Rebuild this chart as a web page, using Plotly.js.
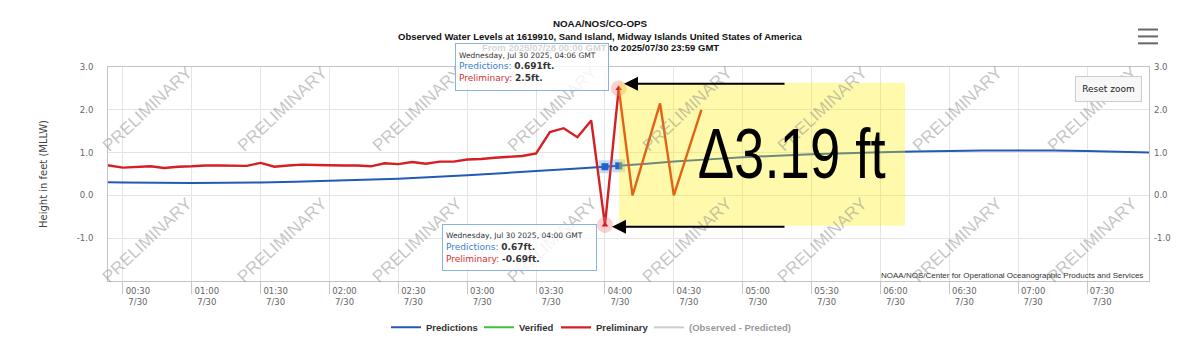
<!DOCTYPE html>
<html><head><meta charset="utf-8">
<script src="https://cdn.plot.ly/plotly-3.0.1.min.js"></script>
<style>html,body{margin:0;padding:0;background:#fff;}#chart{width:1200px;height:354px;}</style>
</head><body><div id="chart"></div>
<script>
// ---------- data ----------
const day = '2025-07-30 ';
const predTimes = ['00:18','00:30','01:00','01:30','02:00','02:30','03:00','03:30','04:00','04:06','04:30','05:00','05:30','06:00','06:30','07:00','07:30','08:00'];
const predValues = [0.31,0.30,0.29,0.30,0.34,0.39,0.47,0.57,0.67,0.691,0.79,0.89,0.96,1.01,1.04,1.05,1.04,1.00];

const prelimTimes = ['00:18','00:24','00:30','00:36','00:42','00:48','00:54','01:00','01:06','01:12','01:18','01:24','01:30','01:36','01:42','01:48','01:54','02:00','02:06','02:12','02:18','02:24','02:30','02:36','02:42','02:48','02:54','03:00','03:06','03:12','03:18','03:24','03:30','03:36','03:42','03:48','03:54','04:00','04:06'];
const prelimValues = [0.72,0.70,0.65,0.66,0.68,0.64,0.67,0.68,0.70,0.70,0.70,0.69,0.76,0.67,0.70,0.72,0.71,0.70,0.70,0.70,0.68,0.75,0.73,0.78,0.74,0.79,0.79,0.84,0.85,0.88,0.90,0.92,0.98,1.48,1.57,1.36,1.75,-0.69,2.5];

const zigTimes = ['04:06','04:12','04:24','04:30','04:42'];
const zigValues = [2.5,0.0,2.15,0.0,2.0];

const verifiedTimes = ['04:00'];
const verifiedValues = [null];

const hoverTimes = ['04:00','04:06'];
const hoverPred = [0.67,0.691];
const hoverPrelim = [-0.69,2.5];
const hoverHeaders = ['Wednesday, Jul 30 2025, 04:00 GMT','Wednesday, Jul 30 2025, 04:06 GMT'];

const yTickVals = [-1,0,1,2,3];
const yTickText = ['-1.0','0.0','1.0','2.0','3.0'];
const deltaLabel = '\u03943.19 ft';

// ---------- helpers ----------
const L=108,R=1149,T=67,B=284;
const px=p=>(p-L)/(R-L);
const py=p=>(B-p)/(B-T);
const t=a=>a.map(s=>day+s);

const BLUE='#2359b8', RED='#d41f24', GREEN='#3cc43c', GRAY='#9a9a9a';

const traces=[
 {name:'Predictions',legend:'legend',x:t(predTimes),y:predValues,mode:'lines',line:{color:BLUE,width:2,shape:'spline',smoothing:0.5},hoverinfo:'skip'},
 {name:'Verified',legend:'legend2',x:t(verifiedTimes),y:verifiedValues,yaxis:'y2',mode:'lines',line:{color:GREEN,width:2},hoverinfo:'skip'},
 {name:'Preliminary',legend:'legend3',x:t(prelimTimes),y:prelimValues,mode:'lines',line:{color:RED,width:2.4},hoverinfo:'skip'},
 {name:'(Observed - Predicted)',legend:'legend4',x:t(verifiedTimes),y:verifiedValues,mode:'lines',line:{color:GRAY,width:2},visible:'legendonly'},
 {name:'zig',x:t(zigTimes),y:zigValues,mode:'lines',line:{color:RED,width:2.4},showlegend:false,hoverinfo:'skip'},
 {x:t(hoverTimes),y:hoverPred,mode:'markers',marker:{symbol:'square',size:13,color:'rgba(80,140,220,0.3)'},showlegend:false,hoverinfo:'skip'},
 {x:t(hoverTimes),y:hoverPred,mode:'markers',marker:{symbol:'square',size:7,color:'#1f63cc'},showlegend:false,hoverinfo:'skip'},
 {x:t(hoverTimes),y:hoverPrelim,mode:'markers',marker:{symbol:'circle',size:16,color:'rgba(240,120,120,0.35)'},showlegend:false,hoverinfo:'skip'},
 {x:t(hoverTimes),y:hoverPrelim,mode:'markers',marker:{symbol:'triangle-up',size:6,color:RED},showlegend:false,hoverinfo:'skip'}
];

const ann=[];
// watermarks
for(let k=0;k<8;k++){
  for(const cy of [110,243]){
    ann.push({xref:'paper',yref:'paper',x:px(147+135*k),y:py(cy),xanchor:'center',yanchor:'middle',
      text:'PRELIMINARY',textangle:-43,showarrow:false,
      font:{family:'Liberation Sans, Arial',size:17,color:'rgba(140,140,140,0.5)'}});
  }
}
// subtitle lines
ann.push({xref:'paper',yref:'paper',x:px(600),y:py(36),xanchor:'center',yanchor:'middle',showarrow:false,
  text:'<b>Observed Water Levels at 1619910, Sand Island, Midway Islands United States of America</b>',
  font:{family:'Liberation Sans, Arial',size:9.5,color:'#111'}});
ann.push({xref:'paper',yref:'paper',x:px(600),y:py(47),xanchor:'center',yanchor:'middle',showarrow:false,
  text:'<b>From 2025/07/28 00:00 GMT to 2025/07/30 23:59 GMT</b>',
  font:{family:'Liberation Sans, Arial',size:9.5,color:'#111'}});
// tooltips
function tip(i,left,top,w,h){
  return {xref:'paper',yref:'paper',x:px(left),y:py(top),xanchor:'left',yanchor:'top',showarrow:false,align:'left',
    width:w,height:h,borderpad:3,bgcolor:'rgba(255,255,255,0.82)',bordercolor:'#86b3e3',borderwidth:1,
    font:{family:'DejaVu Sans',size:9,color:'#333'},
    text:"<span style='font-size:7.5px'>"+hoverHeaders[i]+"</span><br>"+
         "<span style='color:#3b7fcc'>Predictions:</span> <b>"+hoverPred[i]+"ft.</b><br>"+
         "<span style='color:#d23030'>Preliminary:</span> <b>"+hoverPrelim[i]+"ft.</b>"};
}
ann.push(tip(1,455,43,146,40));
ann.push(tip(0,442,226,147,39));
// arrows
ann.push({xref:'paper',yref:'paper',x:px(624),y:py(84),ax:162,ay:0,text:'',showarrow:true,arrowhead:2,arrowsize:1.4,arrowwidth:2,arrowcolor:'#000'});
ann.push({xref:'paper',yref:'paper',x:px(612),y:py(229),ax:174,ay:0,text:'',showarrow:true,arrowhead:2,arrowsize:1.4,arrowwidth:2,arrowcolor:'#000'});
// delta label
ann.push({xref:'paper',yref:'paper',x:px(791),y:py(155),xanchor:'center',yanchor:'middle',showarrow:false,
  text:deltaLabel,font:{family:'Liberation Sans, Arial',size:70,color:'#000'}});
// reset zoom
ann.push({xref:'paper',yref:'paper',x:px(1108.5),y:py(89),xanchor:'center',yanchor:'middle',showarrow:false,
  text:'Reset zoom',width:59,height:18,borderpad:3,bgcolor:'#f7f7f7',bordercolor:'#cccccc',borderwidth:1,
  font:{family:'DejaVu Sans',size:9,color:'#222'}});
// credits
ann.push({xref:'paper',yref:'paper',x:px(1145),y:py(278),xanchor:'right',yanchor:'middle',showarrow:false,
  text:'NOAA/NOS/Center for Operational Oceanographic Products and Services',
  font:{family:'Liberation Sans, Arial',size:8,color:'#333'}});

const shapes=[
 {type:'rect',xref:'paper',yref:'paper',x0:px(619),x1:px(905),y0:py(228),y1:py(83),layer:'above',
  fillcolor:'rgba(255,240,0,0.33)',line:{width:0}},
 {type:'line',xref:'paper',yref:'paper',x0:px(1138),x1:px(1158),y0:py(29),y1:py(29),line:{color:'#666',width:2}},
 {type:'line',xref:'paper',yref:'paper',x0:px(1138),x1:px(1158),y0:py(36),y1:py(36),line:{color:'#666',width:2}},
 {type:'line',xref:'paper',yref:'paper',x0:px(1138),x1:px(1158),y0:py(43),y1:py(43),line:{color:'#666',width:2}}
];

const legFont={family:'Liberation Sans, Arial',size:9.5,color:'#333',weight:'bold'};
function leg(textStart){
  return {orientation:'h',x:px(textStart-42),xanchor:'left',y:py(331),yanchor:'middle',bgcolor:'rgba(0,0,0,0)',
    font:legFont,itemclick:false,itemdoubleclick:false};
}

const tickFont={family:'DejaVu Sans',size:8.5,color:'#666'};
const layout={
 width:1200,height:354,
 margin:{l:L,r:1200-R,t:T,b:354-B,pad:0},
 paper_bgcolor:'#fff',plot_bgcolor:'#fff',
 font:{family:'DejaVu Sans'},
 title:{text:'<b>NOAA/NOS/CO-OPS</b>',xref:'container',x:0.5,xanchor:'center',yref:'container',y:1-24/354,yanchor:'middle',
   font:{family:'Liberation Sans, Arial',size:9.8,color:'#111'}},
 xaxis:{type:'date',range:[day+'00:23:30',day+'07:57'],tick0:day+'00:00',dtick:1800000,
   tickformat:'%H:%M<br>%-m/%d',ticks:'outside',ticklen:12,tickcolor:'#c8c8c8',
   ticklabelshift:15,ticklabelstandoff:-10,
   showgrid:true,gridcolor:'#e4e4e4',showline:true,linecolor:'#c4c4c4',mirror:true,zeroline:false,
   tickfont:tickFont},
 yaxis:{range:[-2,3],tickvals:yTickVals,ticktext:yTickText,showgrid:true,gridcolor:'#e4e4e4',zeroline:false,
   showline:true,linecolor:'#c4c4c4',mirror:true,ticks:'',ticklabelstandoff:12,tickfont:tickFont,
   title:{text:'Height in feet (MLLW)',font:{family:'DejaVu Sans',size:10,color:'#444'},standoff:27}},
 yaxis2:{overlaying:'y',side:'right',range:[-2,3],tickvals:yTickVals,ticktext:yTickText,showgrid:false,zeroline:false,
   showline:false,ticks:'',ticklabelstandoff:4,tickfont:tickFont},
 legend:leg(428), legend2:leg(521), legend3:leg(598), legend4:leg(691),
 annotations:ann,
 shapes:shapes
};
Plotly.newPlot('chart',traces,layout,{displayModeBar:false}).then(gd=>{
  gd.querySelectorAll('text.annotation-text').forEach(el=>{
    if(el.textContent===deltaLabel){
      el.setAttribute('textLength','188');
      el.setAttribute('lengthAdjust','spacingAndGlyphs');
    }
  });
});
</script></body></html>
